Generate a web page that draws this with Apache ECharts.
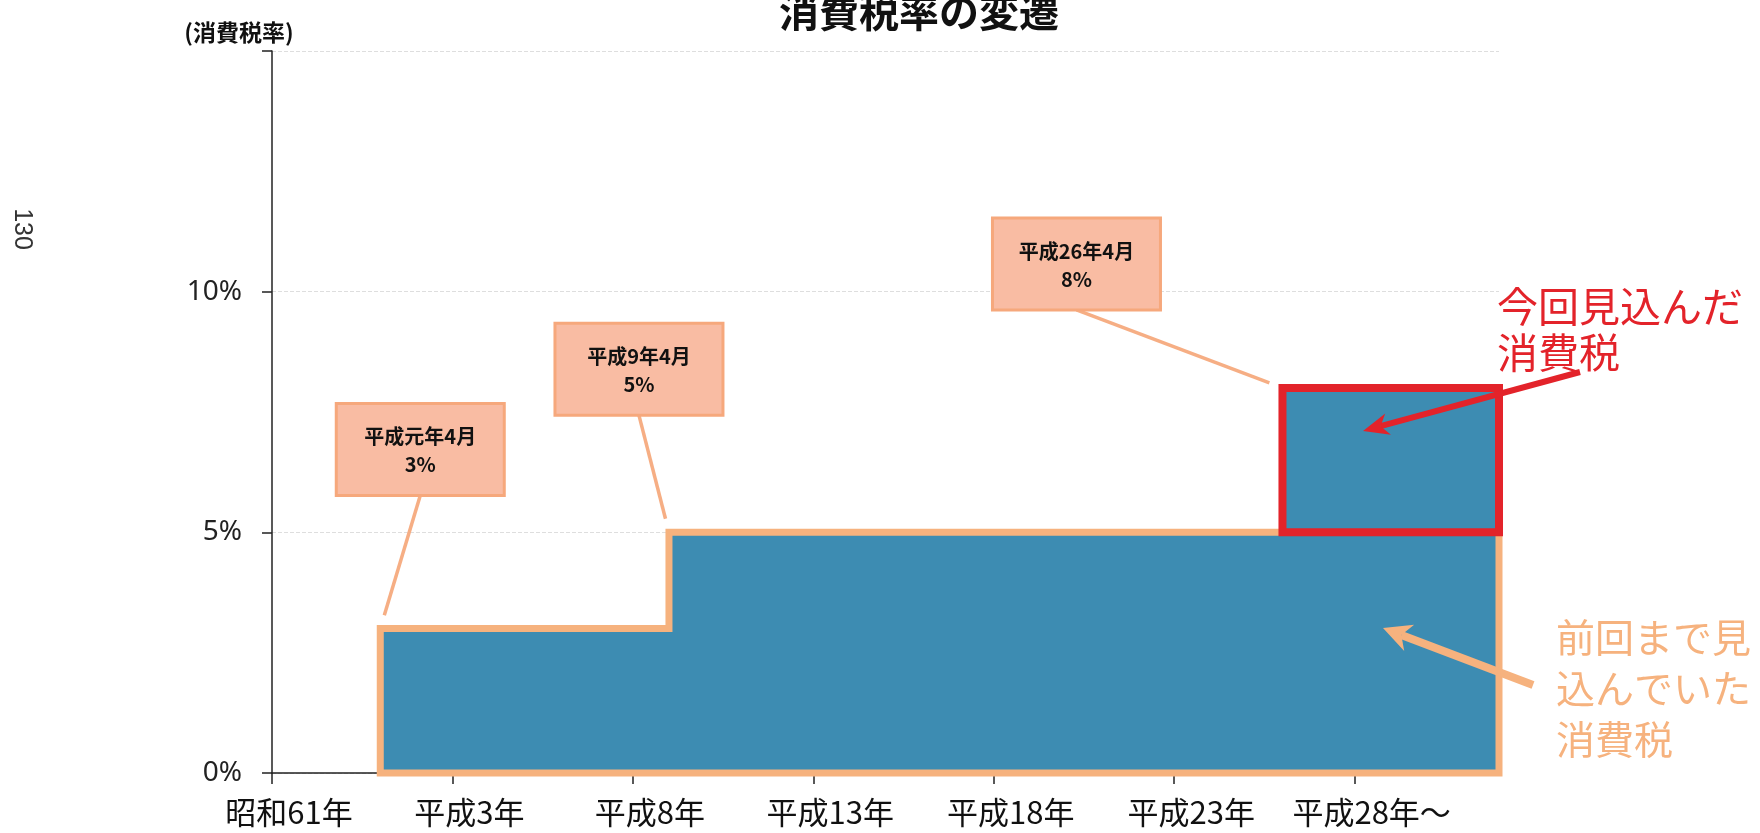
<!DOCTYPE html>
<html>
<head>
<meta charset="utf-8">
<title>消費税率の変遷</title>
<script src="https://cdn.jsdelivr.net/npm/echarts@6/dist/echarts.min.js"></script>
<style>
  html, body { margin: 0; padding: 0; background: #fff; }
  #main { width: 1760px; height: 833px; }
</style>
</head>
<body>
<div id="main"></div>
<script>
// 横軸の目盛り（西暦）とラベル
const tickYears = [1986, 1991, 1996, 2001, 2006, 2011, 2016];
const tickLabels = ['昭和61年', '平成3年', '平成8年', '平成13年', '平成18年', '平成23年', '平成28年～'];
const startYear = 1986;
const endYear = 2020;

// 前回まで見込んでいた消費税率（改定年と税率）
const prevYears = [1989, 1997];
const prevRates = [3, 5];

// 今回見込んだ消費税
const newYear = 2014;
const newRate = 8;

// 吹き出し
const calloutYears = [1989, 1997, 2014];
const calloutRates = [3, 5, 8];
const calloutNames = ['平成元年4月', '平成9年4月', '平成26年4月'];

const BLUE = '#3d8cb2';
const ORANGE = '#f6b27e';
const RED = '#e3232a';
const JP = '"Noto Sans CJK JP", sans-serif';

// 吹き出しの位置（基準点からのずれ、px）
const calloutOffsets = [[40, -179], [-30, -163], [-206, -124]];
const boxW = 168, boxH = 92;

let myChart = echarts.init(document.getElementById('main'));

// 矢印（系列の上に描く）
function arrow(x1, y1, x2, y2, color, w, headL, headW) {
    const a = Math.atan2(y2 - y1, x2 - x1);
    const c = Math.cos(a), s = Math.sin(a);
    const bx = x2 - c * headL, by = y2 - s * headL;
    const nx = -s, ny = c;
    const notch = headL * 0.3;
    return {
        type: 'group',
        z: 100,
        children: [
            { type: 'line', z: 100, shape: { x1: x1, y1: y1, x2: bx + c * notch, y2: by + s * notch },
              style: { stroke: color, lineWidth: w } },
            { type: 'polygon', z: 100, shape: { points: [
                [x2, y2],
                [bx + nx * headW / 2, by + ny * headW / 2],
                [bx + c * notch, by + s * notch],
                [bx - nx * headW / 2, by - ny * headW / 2]
              ] }, style: { fill: color } }
        ]
    };
}

let option = {
    animation: false,
    backgroundColor: '#fff',
    grid: { left: 272, right: 261, top: 51, bottom: 60 },
    xAxis: {
        type: 'value',
        min: startYear,
        max: endYear,
        axisLine: { onZero: true, lineStyle: { color: '#222', width: 1.5 } },
        axisTick: { show: true, customValues: tickYears, length: 11, lineStyle: { color: '#222', width: 1.5 } },
        axisLabel: {
            customValues: tickYears,
            formatter: function (v) { return tickLabels[tickYears.indexOf(v)]; },
            fontSize: 31,
            color: '#111',
            margin: 24,
            padding: [0, 0, 0, 34],
            fontFamily: JP
        },
        splitLine: { show: false }
    },
    yAxis: {
        type: 'value',
        min: 0,
        max: 15,
        interval: 5,
        name: '(消費税率)',
        nameLocation: 'end',
        nameGap: 7,
        nameTextStyle: { fontSize: 23, fontWeight: 'bold', color: '#111', fontFamily: JP, align: 'center', padding: [0, 66, 0, 0] },
        axisLine: { show: true, lineStyle: { color: '#222', width: 1.5 } },
        axisTick: { show: true, length: 10, lineStyle: { color: '#222', width: 1.5 } },
        axisLabel: {
            formatter: function (v) { return v === 15 ? '' : v + '%'; },
            fontSize: 28,
            color: '#222',
            margin: 30,
            fontFamily: '"Noto Sans", sans-serif'
        },
        splitLine: { show: true, lineStyle: { color: '#dedede', type: 'dashed', width: 1 } }
    },
    series: [
        {
            // 前回まで見込んでいた消費税
            name: '前回まで見込んでいた消費税',
            type: 'custom',
            z: 2,
            data: prevYears.map((y, i) => [y, prevRates[i]]),
            renderItem: function (params, api) {
                if (params.dataIndex !== 0) return;
                const pts = [api.coord([prevYears[0], 0])];
                for (let i = 0; i < prevYears.length; i++) {
                    const next = i + 1 < prevYears.length ? prevYears[i + 1] : endYear;
                    pts.push(api.coord([prevYears[i], prevRates[i]]));
                    pts.push(api.coord([next, prevRates[i]]));
                }
                pts.push(api.coord([endYear, 0]));
                return {
                    type: 'polygon',
                    shape: { points: pts },
                    style: { fill: BLUE, stroke: ORANGE, lineWidth: 7, lineJoin: 'miter' }
                };
            }
        },
        {
            // 今回見込んだ消費税
            name: '今回見込んだ消費税',
            type: 'custom',
            z: 3,
            data: [[newYear, prevRates[prevRates.length - 1], newRate]],
            renderItem: function (params, api) {
                const p0 = api.coord([api.value(0), api.value(2)]);
                const p1 = api.coord([endYear, api.value(1)]);
                return {
                    type: 'rect',
                    shape: { x: p0[0], y: p0[1], width: p1[0] - p0[0], height: p1[1] - p0[1] },
                    style: { fill: BLUE, stroke: RED, lineWidth: 8, lineJoin: 'miter' }
                };
            }
        },
        {
            // 吹き出し
            name: 'callouts',
            type: 'custom',
            z: 4,
            data: calloutYears.map((y, i) => [y, calloutRates[i]]),
            renderItem: function (params, api) {
                const i = params.dataIndex;
                const p = api.coord([api.value(0), api.value(1)]);
                const off = calloutOffsets[i];
                const cx = p[0] + off[0], cy = p[1] + off[1];
                const sx = cx, sy = cy + boxH / 2;
                const dx = p[0] - sx, dy = p[1] - sy;
                const len = Math.sqrt(dx * dx + dy * dy);
                const ex = p[0] - dx / len * 14, ey = p[1] - dy / len * 14;
                return {
                    type: 'group',
                    children: [
                        { type: 'line', shape: { x1: sx, y1: sy, x2: ex, y2: ey },
                          style: { stroke: '#f6ae84', lineWidth: 3.5 } },
                        { type: 'rect', shape: { x: cx - boxW / 2, y: cy - boxH / 2, width: boxW, height: boxH },
                          style: { fill: '#f9bca3', stroke: '#f6a87c', lineWidth: 3 } },
                        { type: 'text', x: cx, y: cy + 1,
                          style: { text: calloutNames[i] + '\n' + api.value(1) + '%', align: 'center', verticalAlign: 'middle',
                                   fontSize: 20, fontWeight: 'bold', lineHeight: 28, fontFamily: JP, fill: '#111' } }
                    ]
                };
            }
        }
    ],
    graphic: [
        { type: 'text', x: 919, y: 12, z: 100,
          style: { text: '消費税率の変遷', align: 'center', verticalAlign: 'middle', fontSize: 40, fontWeight: 'bold', fontFamily: JP, fill: '#111' } },
        { type: 'text', x: 22, y: 229, rotation: -Math.PI / 2, z: 100,
          style: { text: '130', align: 'center', verticalAlign: 'middle', fontSize: 25, fontFamily: '"Liberation Sans", sans-serif', fill: '#333' } },
        { type: 'text', x: 1497, y: 283, z: 100,
          style: { text: '今回見込んだ\n消費税', fontSize: 41, lineHeight: 46, fontFamily: JP, fill: RED } },
        { type: 'text', x: 1556, y: 612, z: 100,
          style: { text: '前回まで見\n込んでいた\n消費税', fontSize: 39, lineHeight: 51, fontFamily: JP, fill: ORANGE } },
        arrow(1580, 372, 1363, 431, RED, 6, 26, 22),
        arrow(1533, 685, 1383, 628, ORANGE, 8, 28, 28)
    ]
};

myChart.setOption(option);
window.addEventListener('resize', function () {
    myChart.resize();
});
</script>
</body>
</html>
